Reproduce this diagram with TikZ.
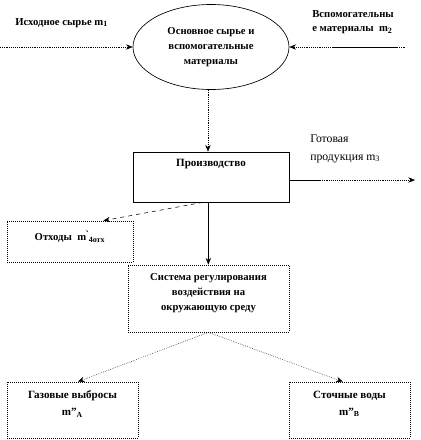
\documentclass[tikz,border=0pt]{standalone}
\usepackage{fontspec}
\setmainfont{Liberation Serif}
\usetikzlibrary{arrows.meta,shapes.geometric}
\begin{document}
\begin{tikzpicture}[x=0.75pt,y=-0.75pt,
  tip/.style={-{Stealth[length=5pt,width=4pt]}},
  boxd/.style={draw,densely dotted,line width=0.5pt},
  boxs/.style={draw,line width=0.5pt},
  lbl/.style={font=\bfseries\fontsize{8}{11}\selectfont,align=left,anchor=west},
  lbln/.style={font=\fontsize{8.8}{13}\selectfont,align=left,anchor=west},
  every node/.style={inner sep=0pt}]
\useasboundingbox (0,0) rectangle (421,440);
% ellipse
\node[ellipse,draw,line width=0.5pt,minimum height=85*0.75pt,minimum width=156*0.75pt,font=\bfseries\fontsize{8}{11}\selectfont,align=center] (ell) at (211,47) {Основное сырье и\\вспомогательные\\материалы};
% boxes
\node[boxs,minimum width=156*0.75pt,minimum height=50*0.75pt] (prod) at (211,177) {};
\node[font=\bfseries\fontsize{8.3}{11}\selectfont] (prodt) at (211,164) {Производство};
\node[boxd,minimum width=126*0.75pt,minimum height=41*0.75pt] (otx) at (70,241.5) {};
\node[font=\bfseries\fontsize{8}{11}\selectfont] (otxt) at (70,237) {Отходы\ \ m\`{}\textsubscript{4отх}};
\node[boxd,minimum width=161*0.75pt,minimum height=67*0.75pt] (sys) at (208.5,298.5) {};
\node[font=\bfseries\fontsize{8}{11.5}\selectfont,align=center] (syst) at (208.5,293) {Система регулирования\\воздействия на\\окружающую среду};
\node[boxd,minimum width=131*0.75pt,minimum height=56*0.75pt] (gas) at (72.5,410) {};
\node[font=\bfseries\fontsize{8.3}{12.5}\selectfont,align=center] (gast) at (72.5,404) {Газовые выбросы\\m"\textsubscript{A}};
\node[boxd,minimum width=121*0.75pt,minimum height=56*0.75pt] (wat) at (349.5,410) {};
\node[font=\bfseries\fontsize{8.3}{12.5}\selectfont,align=center] (watt) at (349.5,404) {Сточные воды\\m"\textsubscript{B}};
% labels
\node[lbl] (l1) at (15,23) {Исходное сырье m\textsubscript{1}};
\node[lbl] (l2) at (312,22) {Вспомогательны\\е материалы\ \ m\textsubscript{2}};
\node[lbln] (l3) at (310,149) {Готовая\\продукция m\textsubscript{3}};
% connectors
\coordinate (inL) at (0,47);
\coordinate (inR) at (405,47);
\coordinate (outR) at (415,180);
\coordinate (outM) at (320,180);
\draw[tip,densely dotted] (inL) -- (ell.west);
\draw[tip,densely dotted] (inR) -- (ell.east);
\draw[line width=0.6pt] (333,47) -- (397,47);
\draw[tip,densely dotted] (ell.south -| prod.north) ++(-3,0) coordinate (ea) (ea) -- (ea |- prod.north);
\draw[line width=0.5pt] (prod.east |- outR) -- (outM);
\draw[tip,densely dotted] (outM) -- (outR);
\draw[tip,dashed] ([xshift=-6pt]prod.south) -- ([xshift=25pt]otx.north);
\draw[tip] ([xshift=-2pt]prod.south) -- ([xshift=-2pt]prod.south |- sys.north);
\draw[tip,densely dotted] (sys.south) -- ([xshift=4pt]gas.north);
\draw[tip,densely dotted] (sys.south) -- ([xshift=-5pt]wat.north);
\end{tikzpicture}
\end{document}
